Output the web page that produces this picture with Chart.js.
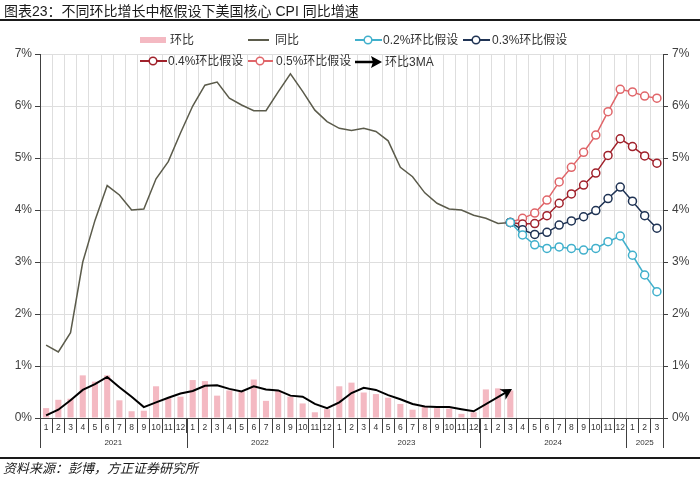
<!DOCTYPE html>
<html>
<head>
<meta charset="utf-8">
<script src="https://cdn.jsdelivr.net/npm/chart.js@4.4.1/dist/chart.umd.min.js"></script>
<style>
  html, body { margin: 0; padding: 0; background: #fff; }
  #wrap { position: relative; width: 700px; height: 477px; overflow: hidden; font-family: "Liberation Sans", "Noto Sans CJK SC", sans-serif; }
  #c { position: absolute; left: 0; top: 0; }
  .title { position: absolute; left: 4px; top: 2px; font-size: 14px; line-height: 18px; color: #1a1a1a; white-space: nowrap; }
  .rule { position: absolute; left: 0; width: 700px; height: 2px; background: #1a1a1a; }
  .src { position: absolute; left: 3px; top: 461px; font-size: 13px; line-height: 16px; font-style: italic; color: #1a1a1a; white-space: nowrap; }
  .lg { position: absolute; font-size: 12px; line-height: 14px; color: #333; white-space: nowrap; }
  .sym { position: absolute; }
</style>
</head>
<body>
<div id="wrap">
  <canvas id="c" width="700" height="477"></canvas>
  <div class="title">图表23：不同环比增长中枢假设下美国核心 CPI 同比增速</div>
  <div class="rule" style="top:19px"></div>
  <div class="rule" style="top:457px"></div>
  <div class="src">资料来源：彭博，方正证券研究所</div>

  <svg class="sym" style="left:0;top:0" width="700" height="80">
    <rect x="140" y="37" width="26" height="6" fill="#F4B9C2"/>
    <line x1="248" y1="40" x2="269" y2="40" stroke="#5B5B4B" stroke-width="2"/>
    <line x1="355" y1="40" x2="382" y2="40" stroke="#41B0CC" stroke-width="2"/>
    <circle cx="368" cy="40" r="3.8" fill="#fff" stroke="#41B0CC" stroke-width="1.5"/>
    <line x1="463" y1="40" x2="490" y2="40" stroke="#1F3354" stroke-width="2"/>
    <circle cx="476" cy="40" r="3.8" fill="#fff" stroke="#1F3354" stroke-width="1.5"/>
    <line x1="140" y1="61" x2="167" y2="61" stroke="#A0212B" stroke-width="2"/>
    <circle cx="153" cy="61" r="3.8" fill="#fff" stroke="#A0212B" stroke-width="1.5"/>
    <line x1="248" y1="61" x2="273" y2="61" stroke="#E0666A" stroke-width="2"/>
    <circle cx="260" cy="61" r="3.8" fill="#fff" stroke="#E0666A" stroke-width="1.5"/>
    <line x1="355" y1="62" x2="374" y2="62" stroke="#000" stroke-width="2.5"/>
    <polygon points="382,62 371,56 373,62 371,68" fill="#000"/>
  </svg>
  <div class="lg" style="left:170px;top:33px">环比</div>
  <div class="lg" style="left:275px;top:33px">同比</div>
  <div class="lg" style="left:383px;top:33px">0.2%环比假设</div>
  <div class="lg" style="left:492px;top:33px">0.3%环比假设</div>
  <div class="lg" style="left:168px;top:54px">0.4%环比假设</div>
  <div class="lg" style="left:276px;top:54px">0.5%环比假设</div>
  <div class="lg" style="left:385px;top:55px">环比3MA</div>
</div>
<script>
// ---- data ----
const months = ['1','2','3','4','5','6','7','8','9','10','11','12',
                '1','2','3','4','5','6','7','8','9','10','11','12',
                '1','2','3','4','5','6','7','8','9','10','11','12',
                '1','2','3','4','5','6','7','8','9','10','11','12',
                '1','2','3'];
const years = ['2021','2022','2023','2024','2025'];
const yearMonthCounts = [12, 12, 12, 12, 3];

// core CPI MoM (%)
const mom = [0.19,0.35,0.37,0.82,0.70,0.82,0.34,0.13,0.14,0.61,0.38,0.41,
             0.73,0.71,0.43,0.53,0.51,0.74,0.33,0.53,0.41,0.28,0.11,0.17,
             0.61,0.68,0.49,0.46,0.39,0.27,0.16,0.22,0.19,0.18,0.08,0.11,
             0.55,0.57,0.53,null,null,null,null,null,null,null,null,null,
             null,null,null];
// core CPI YoY (%)
const yoy = [1.40,1.27,1.64,3.00,3.80,4.47,4.29,4.00,4.02,4.60,4.93,5.48,
             6.00,6.40,6.46,6.15,6.02,5.91,5.91,6.27,6.62,6.28,5.92,5.70,
             5.57,5.53,5.57,5.51,5.33,4.82,4.64,4.33,4.13,4.02,4.00,3.90,
             3.84,3.74,3.76,null,null,null,null,null,null,null,null,null,
             null,null,null];
// MoM 3-month average (%)
const mom3ma = [0.05,0.16,0.34,0.54,0.65,0.79,0.59,0.41,0.21,0.30,0.39,0.47,
                0.52,0.62,0.63,0.56,0.51,0.61,0.55,0.53,0.43,0.41,0.27,0.19,
                0.30,0.48,0.58,0.54,0.44,0.36,0.27,0.22,0.21,0.21,0.17,0.13,
                null,null,0.54,null,null,null,null,null,null,null,null,null,
                null,null,null];
const pad = [null,null,null,null,null,null,null,null,null,null,null,null,
             null,null,null,null,null,null,null,null,null,null,null,null,
             null,null,null,null,null,null,null,null,null,null,null,null,
             null,null];
// scenarios, 2024-03 .. 2025-03
const s02 = [3.76,3.52,3.33,3.26,3.29,3.26,3.23,3.26,3.39,3.50,3.13,2.75,2.43];
const s03 = [3.76,3.62,3.53,3.57,3.71,3.79,3.87,3.99,4.22,4.44,4.17,3.89,3.65];
const s04 = [3.76,3.73,3.74,3.89,4.13,4.31,4.48,4.71,5.05,5.37,5.22,5.04,4.90];
const s05 = [3.76,3.84,3.94,4.19,4.54,4.82,5.11,5.44,5.89,6.32,6.27,6.19,6.15];
const yTicks = [0,1,2,3,4,5,6,7];

// ---- chart ----
const AX = '#404040';
const GRID = '#dedede';
const FONT = "'Liberation Sans', Arial, sans-serif";

function scen(label, data, color) {
  return {
    type: 'line', label, data: pad.concat(data), borderColor: color, borderWidth: 1.5,
    pointRadius: 4, pointHoverRadius: 4, pointBackgroundColor: '#fff', pointBorderColor: color,
    pointBorderWidth: 1.5, yAxisID: 'y', order: 2, tension: 0
  };
}

const arrowPlugin = {
  id: 'arrow',
  afterDatasetsDraw(chart) {
    const idx = chart.data.datasets.findIndex(d => d.label === '环比3MA');
    const meta = chart.getDatasetMeta(idx);
    const pts = meta.data.filter((p, i) => chart.data.datasets[idx].data[i] !== null);
    const a = pts[pts.length - 2], b = pts[pts.length - 1];
    const ang = Math.atan2(b.y - a.y, b.x - a.x);
    const ctx = chart.ctx;
    ctx.save();
    ctx.translate(b.x, b.y);
    ctx.rotate(ang);
    ctx.fillStyle = '#000';
    ctx.beginPath();
    ctx.moveTo(2, 0);
    ctx.lineTo(-9, -6);
    ctx.lineTo(-6, 0);
    ctx.lineTo(-9, 6);
    ctx.closePath();
    ctx.fill();
    ctx.restore();
  }
};

const yearPlugin = {
  id: 'yearAxis',
  afterDraw(chart) {
    const x = chart.scales.x;
    const ctx = chart.ctx;
    const top = x.top;
    ctx.save();
    ctx.strokeStyle = AX;
    ctx.lineWidth = 1;
    ctx.fillStyle = '#333';
    ctx.font = '8px ' + FONT;
    ctx.textAlign = 'center';
    ctx.textBaseline = 'middle';
    let start = 0;
    const bounds = [0];
    yearMonthCounts.forEach(c => { start += c; bounds.push(start); });
    bounds.forEach(b => {
      const px = Math.round(x.getPixelForValue(b - 0.5)) + 0.5;
      ctx.beginPath();
      ctx.moveTo(px, top);
      ctx.lineTo(px, top + 30);
      ctx.stroke();
    });
    years.forEach((yr, i) => {
      const l = x.getPixelForValue(bounds[i] - 0.5);
      const r = x.getPixelForValue(bounds[i + 1] - 0.5);
      ctx.fillText(yr, (l + r) / 2, top + 25);
    });
    ctx.restore();
  }
};

new Chart(document.getElementById('c'), {
  data: {
    labels: months,
    datasets: [
      { type: 'bar', label: '环比', data: mom, backgroundColor: '#F4B9C2', yAxisID: 'y',
        barPercentage: 0.5, categoryPercentage: 1.0, order: 10 },
      { type: 'line', label: '同比', data: yoy, borderColor: '#5B5B4B', borderWidth: 1.5,
        pointRadius: 0, yAxisID: 'y', order: 5, tension: 0 },
      scen('0.2%环比假设', s02, '#41B0CC'),
      scen('0.3%环比假设', s03, '#1F3354'),
      scen('0.4%环比假设', s04, '#A0212B'),
      scen('0.5%环比假设', s05, '#E0666A'),
      { type: 'line', label: '环比3MA', data: mom3ma, borderColor: '#000', borderWidth: 2,
        pointRadius: 0, spanGaps: true, yAxisID: 'y', order: 1, tension: 0 }
    ]
  },
  options: {
    responsive: false,
    animation: false,
    layout: { padding: { top: 54, left: 0, right: 0, bottom: 0 } },
    plugins: { legend: { display: false }, tooltip: { enabled: false } },
    scales: {
      x: {
        type: 'category', offset: true,
        grid: { offset: true, color: GRID, tickColor: AX, tickLength: 15, drawTicks: true },
        border: { color: AX, width: 1 },
        ticks: { autoSkip: false, maxRotation: 0, minRotation: 0, padding: -10,
                 font: { family: FONT, size: 8.5 }, color: '#333' },
        afterFit(s) { s.height = 59; }
      },
      y: {
        position: 'left', min: 0, max: 7,
        afterBuildTicks(s) { s.ticks = yTicks.map(v => ({ value: v })); },
        grid: { color: GRID, tickColor: AX, tickLength: 5 },
        border: { color: AX, width: 1 },
        ticks: { padding: 3, font: { family: FONT, size: 12 }, color: AX, callback: v => v + '%' },
        afterFit(s) { s.width = 40; }
      },
      y2: {
        position: 'right', min: 0, max: 7,
        afterBuildTicks(s) { s.ticks = yTicks.map(v => ({ value: v })); },
        grid: { drawOnChartArea: false, tickColor: AX, tickLength: 5 },
        border: { color: AX, width: 1 },
        ticks: { padding: 4, font: { family: FONT, size: 12 }, color: AX, callback: v => v + '%' },
        afterFit(s) { s.width = 37; }
      }
    }
  },
  plugins: [arrowPlugin, yearPlugin]
});
</script>
</body>
</html>
